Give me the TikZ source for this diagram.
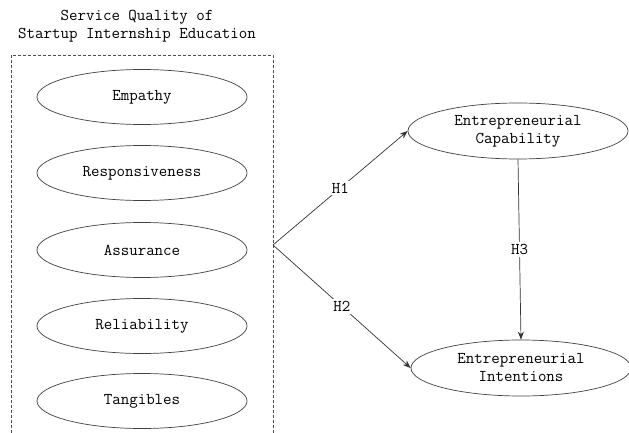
\documentclass[tikz,border=0pt]{standalone}
\usepackage{fontspec}
\usetikzlibrary{shapes.geometric,arrows.meta}

\begin{document}
\begin{tikzpicture}[x=1pt, y=-1pt,
    txt/.style={font=\ttfamily\fontsize{16.5}{18}\selectfont},
    factor/.style={ellipse, draw=black!75, line width=0.7pt, minimum width=210pt, minimum height=55pt, inner sep=0pt, txt},
    outcome/.style={factor, align=center, minimum width=220pt, minimum height=56pt},
    hyp/.style={fill=white, inner sep=2pt, txt},
    path/.style={draw=black!80, line width=0.7pt, -{Stealth[length=8pt, width=6pt]}}]
    \useasboundingbox (0,0) rectangle (629,433);

    % draw title
    \node[align=center, txt] (title) at (137,26) {Service Quality of\\Startup Internship Education};

    % draw dashed frame
    \draw[black!70, dash pattern=on 3pt off 2pt, line width=0.6pt] (11,433) -- (11,55) -- (273,55) -- (273,433);

    % draw quality factors
    \foreach \name/\y/\label in {emp/97/Empathy, resp/173/Responsiveness, assu/250/Assurance, reli/326/Reliability, tang/401/Tangibles}
      \node[factor] (\name) at (142,\y) {\label};

    % draw outcomes
    \node[outcome] (cap) at (518,131) {Entrepreneurial\\Capability};
    \node[outcome] (inte) at (521,368) {Entrepreneurial\\Intentions};

    % draw hypotheses
    \coordinate (br) at (273,245);
    \draw[path] (br) -- node[hyp] (h1) {H1} (cap.west);
    \draw[path] (br) -- node[hyp] (h2) {H2} (inte.west);
    \draw[path] (cap.south) -- node[hyp] (h3) {H3} (inte.north);
\end{tikzpicture}
\end{document}
